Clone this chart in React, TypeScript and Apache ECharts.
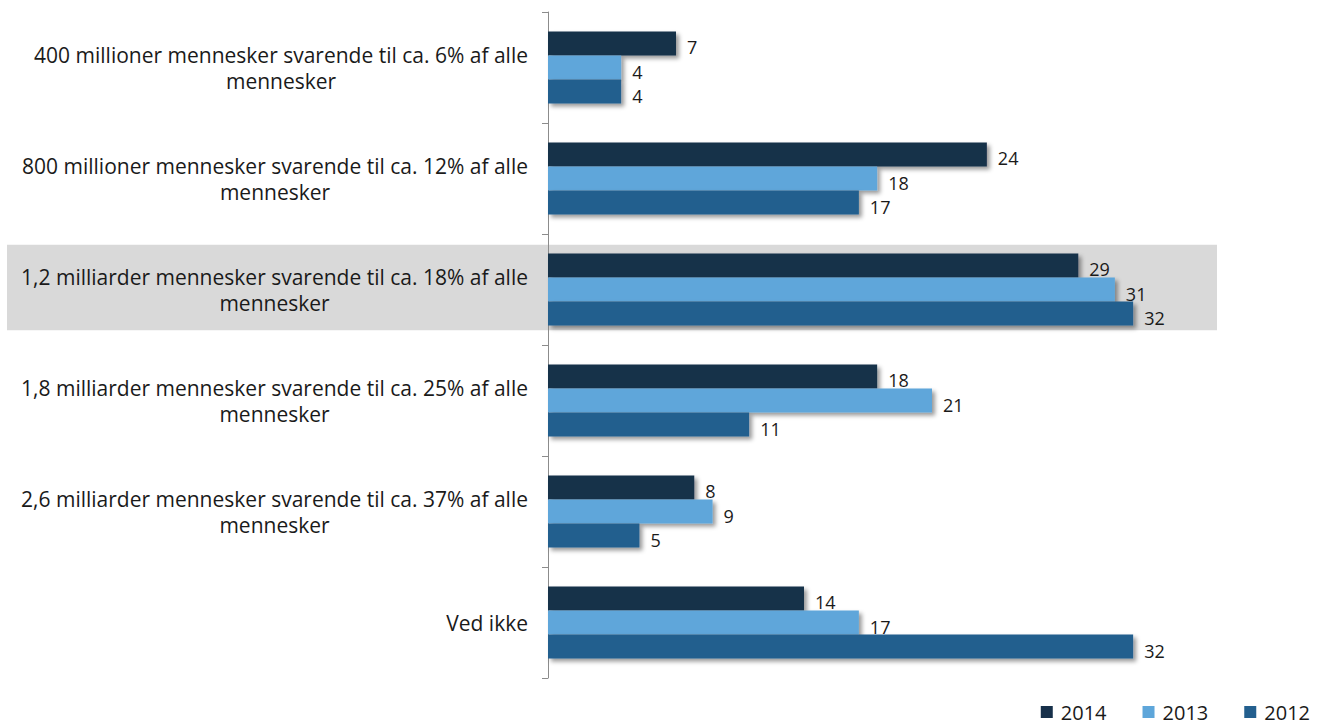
import React, { useEffect, useRef } from "react";
import * as echarts from "echarts";

const categories = [
  "400 millioner mennesker svarende til ca. 6% af alle\nmennesker",
  "800 millioner mennesker svarende til ca. 12% af alle\nmennesker",
  "1,2 milliarder mennesker svarende til ca. 18% af alle\nmennesker",
  "1,8 milliarder mennesker svarende til ca. 25% af alle\nmennesker",
  "2,6 milliarder mennesker svarende til ca. 37% af alle\nmennesker",
  "Ved ikke",
];
const highlightIndex = 2;
const seriesNames = ["2014", "2013", "2012"];
const values2014 = [7, 24, 29, 18, 8, 14];
const values2013 = [4, 18, 31, 21, 9, 17];
const values2012 = [4, 17, 32, 11, 5, 32];
const colors = ["#17304a", "#5ea6da", "#235f8e"];

const FONT = "'Open Sans', 'Noto Sans', sans-serif";

export default function App() {
  const ref = useRef<HTMLDivElement>(null);
  useEffect(() => {
    if (!ref.current) return;
    const chart = echarts.init(ref.current, null, { renderer: "svg" });
    const data = [values2014, values2013, values2012];
    const option: any = {
      animation: false,
      textStyle: { fontFamily: FONT },
      grid: { left: 548, right: 135, top: 12, bottom: 47 },
      legend: {
        bottom: -2,
        right: 8,
        icon: "rect",
        itemWidth: 12,
        itemHeight: 12,
        itemGap: 36,
        textStyle: { fontSize: 20, color: "#1a1a1a", fontFamily: FONT, padding: [0, 0, 0, 3] },
        data: seriesNames,
      },
      xAxis: {
        type: "value",
        min: 0,
        max: 35,
        show: false,
      },
      yAxis: {
        type: "category",
        inverse: true,
        data: categories,
        axisLine: { show: true, lineStyle: { color: "#8c8c8c", width: 1 } },
        axisTick: { show: true, length: 6, lineStyle: { color: "#8c8c8c" } },
        axisLabel: {
          align: "right",
          margin: 20,
          formatter: (v: string) =>
            v
              .split("\n")
              .map((s) => `{c|${s}}`)
              .join("\n"),
          rich: {
            c: {
              align: "center",
              fontSize: 21,
              lineHeight: 26,
              color: "#1a1a1a",
              fontFamily: FONT,
            },
          },
        },
        splitLine: { show: false },
      },
      series: seriesNames.map((name, i) => ({
        name,
        type: "bar",
        data: data[i],
        barGap: "0%",
        barCategoryGap: "35%",
        z: 3,
        itemStyle: {
          color: colors[i],
          shadowBlur: 4,
          shadowOffsetX: 3,
          shadowOffsetY: 3,
          shadowColor: "rgba(0,0,0,0.4)",
        },
        label: {
          show: true,
          position: "right",
          distance: 11,
          offset: [0, 4],
          fontSize: 18,
          color: "#1a1a1a",
          fontFamily: FONT,
        },
      })),
    };
    chart.setOption(option);
    const c0 = chart.convertToPixel({ yAxisIndex: 0 }, categories[highlightIndex]) as number;
    const c1 = chart.convertToPixel({ yAxisIndex: 0 }, categories[highlightIndex + 1]) as number;
    const band = Math.abs(c1 - c0);
    const h = band * 0.77;
    chart.setOption({
      graphic: [
        {
          type: "rect",
          z: -10,
          shape: { x: 7, y: c0 - h / 2 - 2, width: 1210, height: h },
          style: { fill: "#d9d9d9" },
          silent: true,
        },
      ],
    });
    return () => chart.dispose();
  }, []);
  return <div ref={ref} style={{ width: 1323, height: 725, position: "absolute", left: 0, top: 0 }} />;
}
